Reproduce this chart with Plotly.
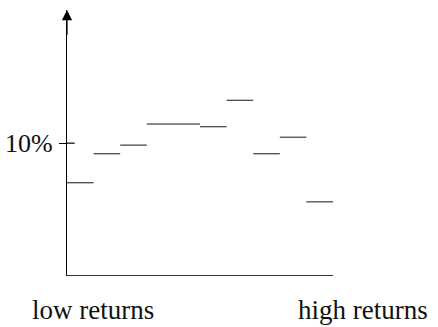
import plotly.graph_objects as go

# Data
bins = list(range(10))
returns_pct = [7.0, 9.2, 9.85, 11.45, 11.45, 11.25, 13.25, 9.2, 10.45, 5.55]
tick_vals = [10]
tick_text = ["10%"]
x_labels = ["low returns", "high returns"]

Y_TOP = 20.1
FONT = "Liberation Serif"

fig = go.Figure()

xs, ys = [], []
for b, v in zip(bins, returns_pct):
    xs += [b, b + 1, None]
    ys += [v, v, None]
fig.add_trace(go.Scatter(x=xs, y=ys, mode="lines",
                         line=dict(color="#4a4a4a", width=1.3),
                         hoverinfo="skip", showlegend=False))

fig.update_xaxes(range=[0, 10], showgrid=False, zeroline=False,
                 showline=True, linecolor="#333", linewidth=1.3,
                 showticklabels=False, ticks="", fixedrange=True,
                 automargin=False)
fig.update_yaxes(range=[0, Y_TOP], showgrid=False, zeroline=False,
                 showline=True, linecolor="black", linewidth=1.2,
                 tickvals=tick_vals, ticktext=tick_text,
                 ticks="outside", ticklen=7, tickwidth=1.2, tickcolor="black",
                 ticklabelstandoff=1,
                 tickfont=dict(family=FONT, size=26, color="#111"),
                 fixedrange=True, automargin=False)

# inner half of the tick
for tv in tick_vals:
    fig.add_shape(type="line", xref="x domain", yref="y",
                  x0=0, x1=0.029, y0=tv, y1=tv,
                  line=dict(color="black", width=1.2))

# arrow at top of y axis
fig.add_annotation(x=0, y=Y_TOP, ax=0, ay=Y_TOP - 2, xref="x", yref="y",
                   axref="x", ayref="y", showarrow=True, arrowhead=2,
                   arrowsize=1.7, arrowwidth=1.2, arrowcolor="black", text="")

fig.add_annotation(x=0.096, y=-0.132, xref="paper", yref="paper",
                   xanchor="center", yanchor="middle",
                   text=x_labels[0], showarrow=False,
                   font=dict(family=FONT, size=27, color="#111"))
fig.add_annotation(x=1.111, y=-0.132, xref="paper", yref="paper",
                   xanchor="center", yanchor="middle",
                   text=x_labels[1], showarrow=False,
                   font=dict(family=FONT, size=27, color="#111"))

fig.update_layout(width=438, height=327,
                  margin=dict(l=67, r=105, t=10, b=52),
                  paper_bgcolor="white", plot_bgcolor="white",
                  showlegend=False)

fig.write_html("out.html", config={"displayModeBar": False},
               post_script="document.body.style.margin='0';")
